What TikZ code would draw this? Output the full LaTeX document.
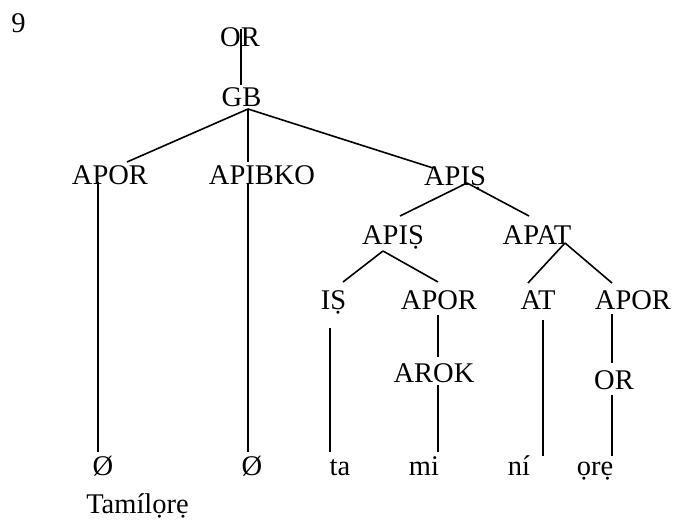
\documentclass[tikz,border=0pt]{standalone}
\usepackage{fontspec}
\setmainfont{Liberation Serif}
\begin{document}
\begin{tikzpicture}[x=1pt,y=-1pt,
  lbl/.style={anchor=base,inner sep=0pt,font=\fontsize{28.5}{34}\selectfont},
  edge/.style={line width=1.6pt}]
\useasboundingbox (0,0) rectangle (673,521);
% labels
\node[lbl] (n9) at (18.5,33) {9};
\node[lbl] (or1) at (240,47) {OR};
\node[lbl] (gb) at (241.5,107) {GB};
\node[lbl] (apor1) at (110,185) {APOR};
\node[lbl] (apibko) at (262,185) {APIBKO};
\node[lbl] (apis1) at (455,186) {APIṢ};
\node[lbl] (apis2) at (393,245) {APIṢ};
\node[lbl] (apat) at (537,245) {APAT};
\node[lbl] (is) at (333.5,310) {IṢ};
\node[lbl] (apor2) at (439,310) {APOR};
\node[lbl] (at) at (538,310) {AT};
\node[lbl] (apor3) at (633,310) {APOR};
\node[lbl] (arok) at (434,383) {AROK};
\node[lbl] (or2) at (614,390) {OR};
\node[lbl] (z1) at (103,476) {Ø};
\node[lbl] (z2) at (252,476) {Ø};
\node[lbl] (ta) at (340,476) {ta};
\node[lbl] (mi) at (424,476) {mi};
\node[lbl] (ni) at (519,476) {ní};
\node[lbl] (ore) at (595,476) {ọrẹ};
\node[lbl] (tam) at (137.5,514) {Tamílọrẹ};
% connector end points
\coordinate (or1-s) at (241,29);
\coordinate (gb-n) at (241,85);
\coordinate (gb-s) at (248,109);
\coordinate (apor1-n) at (127,162);
\coordinate (apibko-n) at (248,162);
\coordinate (apis1-n) at (433,168);
\coordinate (apor1-s) at (98,182);
\coordinate (z1-n) at (98,452);
\coordinate (apibko-s) at (248,183);
\coordinate (z2-n) at (248,452);
\coordinate (apis1-s) at (467,183);
\coordinate (apis2-n) at (400,216);
\coordinate (apat-n) at (529,216);
\coordinate (apis2-s) at (383,251);
\coordinate (is-n) at (343,282);
\coordinate (apor2-n) at (438,282);
\coordinate (apat-s) at (565,243);
\coordinate (at-n) at (528,283);
\coordinate (apor3-n) at (612,283);
\coordinate (is-s) at (330,328);
\coordinate (ta-n) at (330,452);
\coordinate (apor2-s) at (438,315);
\coordinate (arok-n) at (438,357);
\coordinate (arok-s) at (438,385);
\coordinate (mi-n) at (438,452);
\coordinate (at-s) at (543,320);
\coordinate (ni-n) at (543,456);
\coordinate (apor3-s) at (612,314);
\coordinate (or2-n) at (612,363);
\coordinate (or2-s) at (612,395);
\coordinate (ore-n) at (612,456);
% connectors
\draw[edge] (or1-s) -- (gb-n);
\draw[edge] (gb-s) -- (apor1-n);
\draw[edge] (gb-s) -- (apibko-n);
\draw[edge] (gb-s) -- (apis1-n);
\draw[edge] (apor1-s) -- (z1-n);
\draw[edge] (apibko-s) -- (z2-n);
\draw[edge] (apis1-s) -- (apis2-n);
\draw[edge] (apis1-s) -- (apat-n);
\draw[edge] (apis2-s) -- (is-n);
\draw[edge] (apis2-s) -- (apor2-n);
\draw[edge] (apat-s) -- (at-n);
\draw[edge] (apat-s) -- (apor3-n);
\draw[edge] (is-s) -- (ta-n);
\draw[edge] (apor2-s) -- (arok-n);
\draw[edge] (arok-s) -- (mi-n);
\draw[edge] (at-s) -- (ni-n);
\draw[edge] (apor3-s) -- (or2-n);
\draw[edge] (or2-s) -- (ore-n);
\end{tikzpicture}
\end{document}
